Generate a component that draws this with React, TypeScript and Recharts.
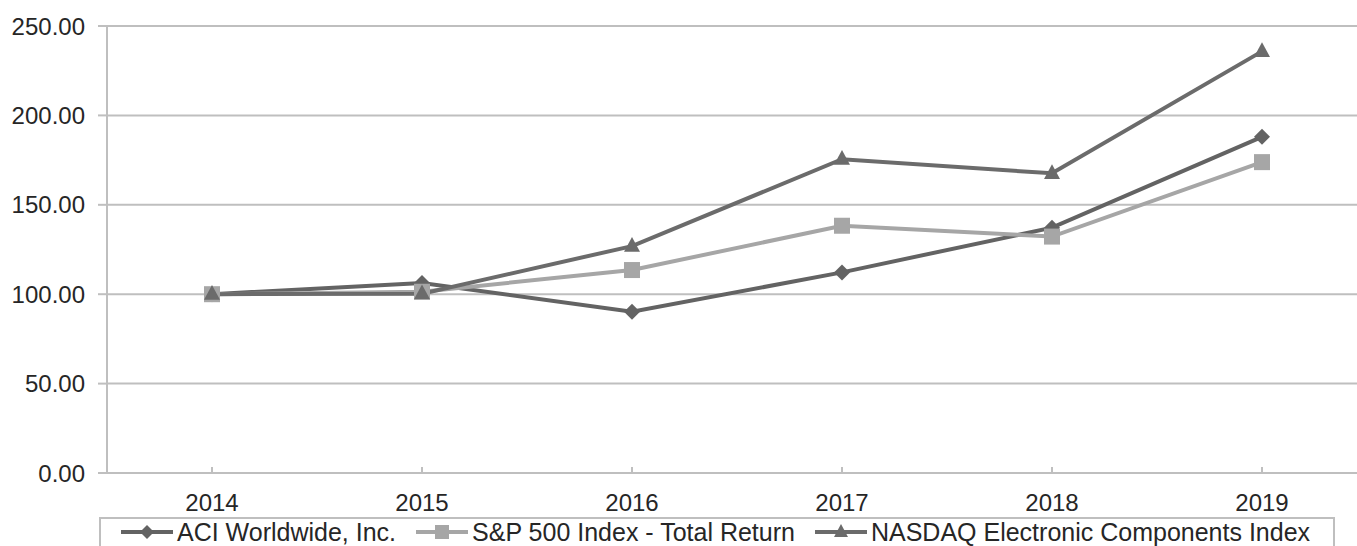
import React from 'react';
import { LineChart, Line, XAxis, YAxis, CartesianGrid, Legend } from 'recharts';

const years = ['2014', '2015', '2016', '2017', '2018', '2019'];
const aciValues = [100, 106.3, 90.2, 112.2, 137.2, 188.0];
const spValues = [100, 101.38, 113.51, 138.29, 132.23, 173.86];
const nasdaqValues = [100, 100.3, 126.9, 175.5, 167.6, 235.8];
const yTicks = [0, 50, 100, 150, 200, 250];

const series = [
  { key: 'aci', name: 'ACI Worldwide, Inc.', color: '#636363', shape: 'diamond' },
  { key: 'sp', name: 'S&P 500 Index - Total Return', color: '#a6a6a6', shape: 'square' },
  { key: 'nasdaq', name: 'NASDAQ Electronic Components Index', color: '#6b6b6b', shape: 'triangle' },
];

const data = years.map((year, i) => ({
  year,
  aci: aciValues[i],
  sp: spValues[i],
  nasdaq: nasdaqValues[i],
}));

const FONT = '"Liberation Sans", Arial, sans-serif';
const GRID = '#bfbfbf';
const TEXT = '#262626';

const Marker = ({ shape, cx, cy, s, color }: any) => {
  if (cx == null || cy == null) return null;
  if (shape === 'diamond') {
    return <polygon points={`${cx},${cy - s} ${cx + s},${cy} ${cx},${cy + s} ${cx - s},${cy}`} fill={color} />;
  }
  if (shape === 'square') {
    return <rect x={cx - s} y={cy - s} width={s * 2} height={s * 2} fill={color} />;
  }
  return <polygon points={`${cx},${cy - s * 1.15} ${cx + s},${cy + s * 0.7} ${cx - s},${cy + s * 0.7}`} fill={color} />;
};

const XTick = ({ x, y, payload }: any) => (
  <g>
    <line x1={x} x2={x} y1={y - 6} y2={y} stroke={GRID} strokeWidth={2} />
    <text x={x} y={y + 38} textAnchor="middle" fill={TEXT} fontSize={24} fontFamily={FONT}>
      {payload.value}
    </text>
  </g>
);

const LegendBox = () => (
  <div
    style={{
      boxSizing: 'border-box',
      width: '100%',
      height: '100%',
      border: `2px solid ${GRID}`,
      display: 'flex',
      alignItems: 'flex-start',
      paddingLeft: 20,
      paddingTop: 1,
      fontFamily: FONT,
      fontSize: 25,
      lineHeight: '24px',
      color: TEXT,
      whiteSpace: 'nowrap',
    }}
  >
    {series.map(s => (
      <div key={s.key} style={{ display: 'flex', alignItems: 'center', marginRight: 20 }}>
        <svg width={52} height={24} style={{ display: 'block' }}>
          <line x1={0} x2={52} y1={12} y2={12} stroke={s.color} strokeWidth={4} />
          <Marker shape={s.shape} cx={26} cy={12} s={7} color={s.color} />
        </svg>
        <span style={{ marginLeft: 4 }}>{s.name}</span>
      </div>
    ))}
  </div>
);

export default function App() {
  return (
    <div style={{ position: 'absolute', left: 0, top: 0, width: 1357, height: 546, overflow: 'hidden', background: '#fff' }}>
      <LineChart width={1380} height={546} data={data} margin={{ top: 26, right: 13, left: 0, bottom: 3 }}>
        <CartesianGrid vertical={false} stroke={GRID} strokeWidth={2} />
        <XAxis
          dataKey="year"
          padding={{ left: 105, right: 105 }}
          height={30}
          axisLine={{ stroke: GRID, strokeWidth: 2 }}
          tickLine={false}
          tickSize={0}
          tickMargin={0}
          tick={<XTick />}
          interval={0}
        />
        <YAxis
          width={107}
          domain={[0, 250]}
          ticks={yTicks}
          tickFormatter={(v: number) => v.toFixed(2)}
          axisLine={{ stroke: GRID, strokeWidth: 2 }}
          tickLine={{ stroke: GRID, strokeWidth: 2 }}
          tickSize={9}
          tickMargin={13}
          tick={{ fill: TEXT, fontSize: 24, fontFamily: FONT }}
        />
        <Legend
          verticalAlign="bottom"
          content={<LegendBox />}
          wrapperStyle={{ left: 99, top: 517, width: 1236, height: 40 }}
        />
        {series.map(s => (
          <Line
            key={s.key}
            dataKey={s.key}
            name={s.name}
            type="linear"
            stroke={s.color}
            strokeWidth={4}
            isAnimationActive={false}
            activeDot={false}
            dot={(p: any) => (
              <Marker key={`${s.key}-${p.index}`} shape={s.shape} cx={p.cx} cy={p.cy} s={8} color={s.color} />
            )}
          />
        ))}
      </LineChart>
    </div>
  );
}
